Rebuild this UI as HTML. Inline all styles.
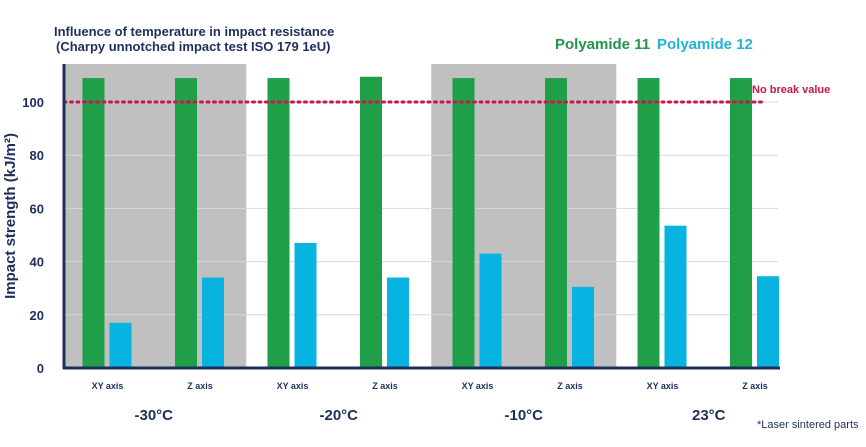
<!DOCTYPE html>
<html><head><meta charset="utf-8"><style>
body{margin:0;background:#fff;width:866px;height:442px;overflow:hidden;font-family:"Liberation Sans",sans-serif}
text{font-family:"Liberation Sans",sans-serif}
</style></head><body>
<svg id="chart" width="866" height="442" viewBox="0 0 866 442">
<text x="54" y="36" font-size="13" font-weight="bold" fill="#1d2f5c">Influence of temperature in impact resistance</text>
<text x="56" y="51" font-size="13" font-weight="bold" fill="#1d2f5c">(Charpy unnotched impact test ISO 179 1eU)</text>
<text x="555" y="49" font-size="15" font-weight="bold" fill="#22954a">Polyamide 11</text>
<text x="657" y="49" font-size="15" font-weight="bold" fill="#1fb2da">Polyamide 12</text>
<text transform="translate(15,216) rotate(-90)" text-anchor="middle" font-size="15" font-weight="bold" fill="#1d2f5c">Impact strength (kJ/m²)</text>
<text x="757" y="428" font-size="11" fill="#1d2f5c">*Laser sintered parts</text>
<g id="bg"></g><g id="grid"></g><g id="bars"></g><g id="axes"></g>
</svg>
<script>
const temps = ["-30°C","-20°C","-10°C","23°C"];
const orientations = ["XY axis","Z axis"];
const pa11 = [109,109,109,109.5,109,109,109,109];
const pa12 = [17,34,47,34,43,30.5,53.5,34.5];
const yTicks = [0,20,40,60,80,100];
const noBreak = 100;

const NS="http://www.w3.org/2000/svg";
const X0=64,X1=778,Y0=368;
const y=v=>Y0-v*2.66;
const slot=92.5, first=107.5;
const cx=i=>first+i*slot;
function mk(tag,attrs,parent){const e=document.createElementNS(NS,tag);for(const k in attrs)e.setAttribute(k,attrs[k]);document.getElementById(parent).appendChild(e);return e;}

temps.forEach((t,ti)=>{
  const c=(cx(ti*2)+cx(ti*2+1))/2;
  if(ti%2===0){
    const r=mk('rect',{x:Math.max(X0,c-slot),y:64,width:c+slot-Math.max(X0,c-slot),height:Y0-64,fill:'#c0c0c0'},'bg');
    
    
  }
  const tx=mk('text',{x:c,y:420,'text-anchor':'middle','font-size':15,'font-weight':'bold',fill:'#1d2f5c'},'axes');
  tx.textContent=t;
  
  
});
yTicks.forEach(v=>{
  if(v>0){const l=mk('line',{x1:X0,x2:X1,y1:y(v),y2:y(v),stroke:'#d8d8d8','stroke-width':1},'grid');
  
  }
  const t=mk('text',{x:44,y:y(v)+5,'text-anchor':'end','font-size':13,'font-weight':'bold',fill:'#1d2f5c'},'axes');
  t.textContent=v;
  
  
});
pa11.forEach((v,i)=>{
  const c=cx(i);
  const g=mk('rect',{x:c-25,y:y(v),width:22,height:Y0-y(v),fill:'#1fa048'},'bars');
  
  
  const b=mk('rect',{x:c+2,y:y(pa12[i]),width:22,height:Y0-y(pa12[i]),fill:'#07b3e0'},'bars');
  
  
  const t=mk('text',{x:c,y:389,'text-anchor':'middle','font-size':9,'font-weight':'bold',fill:'#1d2f5c'},'axes');
  t.textContent=orientations[i%2];
  
  
});
const nl=mk('line',{x1:X0,x2:766,y1:y(noBreak),y2:y(noBreak),stroke:'#c8164f','stroke-width':3,'stroke-dasharray':'2 4.5','stroke-linecap':'round'},'axes');


const nt=mk('text',{x:752,y:y(noBreak)-9,'font-size':11,'font-weight':'bold',fill:'#c8164f'},'axes');
nt.textContent='No break value';


const ya=mk('line',{x1:X0,x2:X0,y1:64,y2:Y0+1,stroke:'#1d2f5c','stroke-width':3},'axes');


const xa=mk('line',{x1:X0-1,x2:X1+2,y1:Y0,y2:Y0,stroke:'#1d2f5c','stroke-width':3},'axes');


</script>
</body></html>
